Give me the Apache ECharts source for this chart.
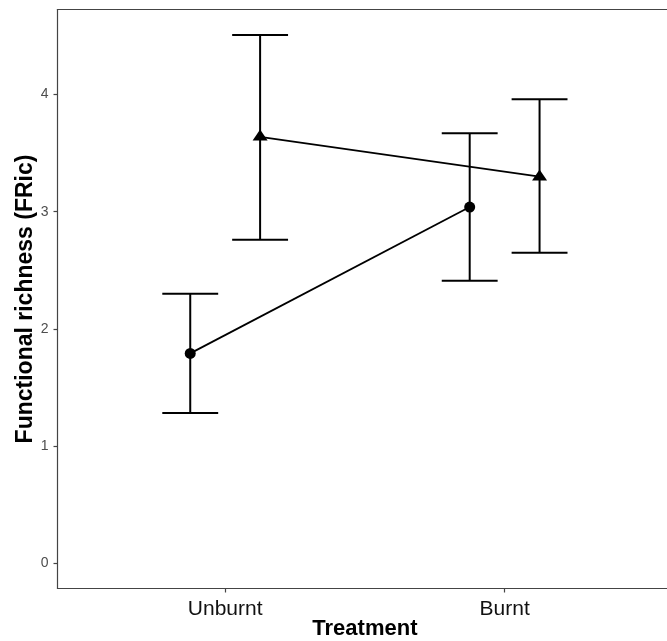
<!DOCTYPE html>
<html>
<head>
<meta charset="utf-8">
<script src="https://cdn.jsdelivr.net/npm/echarts@6/dist/echarts.min.js"></script>
<style>
html,body{margin:0;padding:0;background:#fff;}
#chart{width:667px;height:641px;}
</style>
</head>
<body>
<div id="chart"></div>
<script>
// Data
const categories = ['Unburnt', 'Burnt'];
const categoryPos = [1, 2];
const yTicks = [0, 1, 2, 3, 4];
// group drawn with circles
const circleMean = [1.79, 3.04];
const circleLow = [1.28, 2.41];
const circleHigh = [2.30, 3.67];
// group drawn with triangles
const triMean = [3.64, 3.30];
const triLow = [2.76, 2.65];
const triHigh = [4.51, 3.96];

const DODGE = 0.125;
const CAP_HALF = 0.1;

function groupData(offset, mean) {
  return categoryPos.map((p, i) => [p + offset, mean[i]]);
}
function errData(offset, low, high) {
  return categoryPos.map((p, i) => [p + offset, low[i], high[i]]);
}

function renderErr(params, api) {
  const x = api.value(0);
  const lo = api.coord([x, api.value(1)]);
  const hi = api.coord([x, api.value(2)]);
  const left = api.coord([x - CAP_HALF, api.value(1)])[0];
  const right = api.coord([x + CAP_HALF, api.value(1)])[0];
  const style = { stroke: '#000', lineWidth: 2 };
  return {
    type: 'group',
    children: [
      { type: 'line', shape: { x1: lo[0], y1: lo[1], x2: hi[0], y2: hi[1] }, style },
      { type: 'line', shape: { x1: left, y1: lo[1], x2: right, y2: lo[1] }, style },
      { type: 'line', shape: { x1: left, y1: hi[1], x2: right, y2: hi[1] }, style }
    ]
  };
}

const axisLineStyle = { color: '#444', width: 1.2 };

const chart = echarts.init(document.getElementById('chart'), null, { renderer: 'canvas' });
chart.setOption({
  animation: false,
  backgroundColor: '#fff',
  grid: {
    left: 57.5, top: 9.5, bottom: 52.5, right: -5.3,
    outerBoundsMode: 'none',
    containLabel: false,
    show: false
  },
  xAxis: [{
    type: 'value',
    position: 'bottom',
    min: 0.4, max: 2.6,
    name: 'Treatment',
    nameLocation: 'middle',
    nameGap: 29,
    nameMoveOverlap: false,
    nameTextStyle: { fontFamily: 'Liberation Sans', fontWeight: 'bold', fontSize: 22, color: '#000' },
    axisLine: { show: true, onZero: false, lineStyle: axisLineStyle },
    splitLine: { show: false },
    axisTick: { show: true, customValues: categoryPos, length: 4, lineStyle: axisLineStyle },
    axisLabel: {
      customValues: categoryPos,
      margin: 10,
      fontFamily: 'Liberation Sans', fontSize: 21, color: '#111',
      formatter: v => categories[categoryPos.indexOf(Math.round(v))] || ''
    }
  }, {
    type: 'value',
    position: 'top',
    min: 0.4, max: 2.6,
    axisLine: { show: true, onZero: false, lineStyle: axisLineStyle },
    splitLine: { show: false },
    axisTick: { show: false },
    axisLabel: { show: false }
  }],
  yAxis: {
    type: 'value',
    position: 'left',
    min: -0.218, max: 4.727,
    name: 'Functional richness (FRic)',
    nameLocation: 'middle',
    nameGap: 20,
    nameMoveOverlap: false,
    nameTextStyle: { fontFamily: 'Liberation Sans', fontWeight: 'bold', fontSize: 23, color: '#000' },
    axisLine: { show: true, onZero: false, lineStyle: axisLineStyle },
    splitLine: { show: false },
    axisTick: { show: true, customValues: yTicks, length: 4, lineStyle: axisLineStyle },
    axisLabel: {
      customValues: yTicks,
      margin: 9,
      fontFamily: 'Liberation Sans', fontSize: 14, color: '#4d4d4d'
    }
  },
  series: [
    {
      type: 'custom', renderItem: renderErr,
      data: errData(-DODGE, circleLow, circleHigh), z: 2
    },
    {
      type: 'custom', renderItem: renderErr,
      data: errData(DODGE, triLow, triHigh), z: 2
    },
    {
      type: 'line',
      data: groupData(-DODGE, circleMean),
      symbol: 'circle', symbolSize: 11,
      lineStyle: { color: '#000', width: 1.8 },
      itemStyle: { color: '#000' },
      z: 3
    },
    {
      type: 'line',
      data: groupData(DODGE, triMean),
      symbol: 'triangle', symbolSize: [15, 11], symbolOffset: [0, -1.7],
      lineStyle: { color: '#000', width: 1.8 },
      itemStyle: { color: '#000' },
      z: 3
    }
  ]
});
</script>
</body>
</html>
